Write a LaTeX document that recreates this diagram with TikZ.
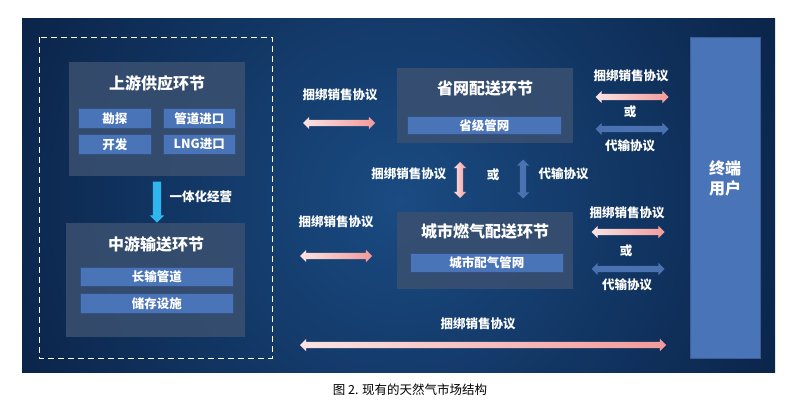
\documentclass[tikz,border=0pt]{standalone}
\usepackage{fontspec}
\setmainfont{Noto Sans CJK SC}
\usetikzlibrary{shapes.arrows}
\definecolor{bgdark}{HTML}{061838}
\definecolor{bgmid}{HTML}{1A4B82}
\definecolor{panel}{HTML}{3A5070}
\definecolor{subbox}{HTML}{4A74B8}
\definecolor{pinkA}{HTML}{FBE3E3}
\definecolor{pinkB}{HTML}{F39A9A}
\definecolor{blueA}{HTML}{4A72B0}
\definecolor{cyanA}{HTML}{2FB6EE}
\begin{document}
\begin{tikzpicture}[x=1pt,y=-1pt,
  panelbox/.style={fill=panel,fill opacity=0.85,draw=none},
  sub/.style={fill=subbox,draw=subbox!70!black,line width=0.6pt,text=white,font=\bfseries\fontsize{12.5}{13}\selectfont,inner sep=0pt,anchor=north west},
  ttl/.style={text=white,font=\bfseries\fontsize{16}{17}\selectfont},
  lbl/.style={text=white,font=\bfseries\fontsize{12.5}{13}\selectfont},
  parr/.style={double arrow,double arrow head extend=3pt,inner sep=0pt,left color=pinkA,right color=pinkB,draw=none},
  barr/.style={double arrow,double arrow head extend=3pt,inner sep=0pt,fill=blueA,draw=none}]
\useasboundingbox (0,0) rectangle (805,415);
\fill[white] (0,0) rectangle (805,415);
\begin{scope}
\clip (22,18) rectangle (775,372);
\shade[inner color=bgmid,outer color=bgdark] (-150,-350) rectangle (950,750);
\end{scope}
% dashed
\draw[white,line width=1pt,dash pattern=on 6pt off 4pt] (39,37) rectangle (272,358);
% upstream
\fill[panelbox] (69,62) rectangle (245,176);
\node[ttl] (up) at (157,83) {上游供应环节};
\node[sub,minimum width=73pt,minimum height=20pt] (kt) at (78,108) {勘探};
\node[sub,minimum width=72pt,minimum height=20pt] (gd) at (163,108) {管道进口};
\node[sub,minimum width=73pt,minimum height=20pt] (kf) at (78,134) {开发};
\node[sub,minimum width=72pt,minimum height=20pt] (lng) at (163,134) {LNG进口};
% arrow down
\node[single arrow,single arrow head extend=3pt,minimum height=41pt,inner sep=0pt,fill=cyanA,rotate=-90] (dn) at (157,200) {\rule{0pt}{8pt}};
\node[lbl,anchor=west] (yth) at (166,197) {一体化经营};
% midstream
\fill[panelbox] (66,223) rectangle (245,337);
\node[ttl] (mid) at (156,244) {中游输送环节};
\node[sub,minimum width=153pt,minimum height=19pt] (cs) at (80,267) {长输管道};
\node[sub,minimum width=153pt,minimum height=20pt] (cc) at (80,293) {储存设施};
% province
\fill[panelbox] (397,68) rectangle (573,143);
\node[ttl] (prov) at (485,88) {省网配送环节};
\node[sub,minimum width=154pt,minimum height=18pt] (sj) at (407,116) {省级管网};
% city
\fill[panelbox] (397,212) rectangle (573,289);
\node[ttl] (city) at (485,231) {城市燃气配送环节};
\node[sub,minimum width=153pt,minimum height=19pt] (cspq) at (410,253) {城市配气管网};
% end user
\fill[subbox,draw=subbox!80!black] (690,37) rectangle (760,358);
\node[text=white,font=\bfseries\fontsize{16}{20}\selectfont,align=center] (user) at (725,178) {终端\\用户};
% left arrows
\node[lbl] (l1) at (340,95) {捆绑销售协议};
\node[parr,minimum height=72pt] (a1) at (339,123) {\rule{0pt}{6pt}};
\node[lbl] (l2) at (336,222) {捆绑销售协议};
\node[parr,minimum height=72pt] (a2) at (336,256) {\rule{0pt}{6pt}};
% vertical
\node[parr,minimum height=36pt,rotate=-90] (v1) at (460,180) {\rule{0pt}{6pt}};
\node[lbl,anchor=east] (vl1) at (450,174) {捆绑销售协议};
\node[lbl] (vor) at (493,175) {或};
\node[barr,minimum height=39pt,rotate=90] (v2) at (523,179) {\rule{0pt}{6pt}};
\node[lbl,anchor=west] (vl2) at (535,174) {代输协议};
% right top
\node[lbl] (r1) at (631,76) {捆绑销售协议};
\node[parr,minimum height=73pt] (ra1) at (632,97) {\rule{0pt}{6pt}};
\node[lbl] (ror1) at (630,112) {或};
\node[barr,minimum height=73pt] (rb1) at (632,129) {\rule{0pt}{6pt}};
\node[lbl] (rd1) at (630,146) {代输协议};
% right lower
\node[lbl] (r2) at (627,213) {捆绑销售协议};
\node[parr,minimum height=73pt] (ra2) at (628,232) {\rule{0pt}{6pt}};
\node[lbl] (ror2) at (626,251) {或};
\node[barr,minimum height=73pt] (rb2) at (628,269) {\rule{0pt}{6pt}};
\node[lbl] (rd2) at (627,285) {代输协议};
% bottom
\node[lbl] (b1) at (478,324) {捆绑销售协议};
\node[parr,minimum height=366pt] (ba) at (483,345) {\rule{0pt}{6pt}};
% caption
\node[text=black,font=\fontsize{12.5}{14}\selectfont] (cap) at (410,390) {图 2. 现有的天然气市场结构};
\end{tikzpicture}
\end{document}
